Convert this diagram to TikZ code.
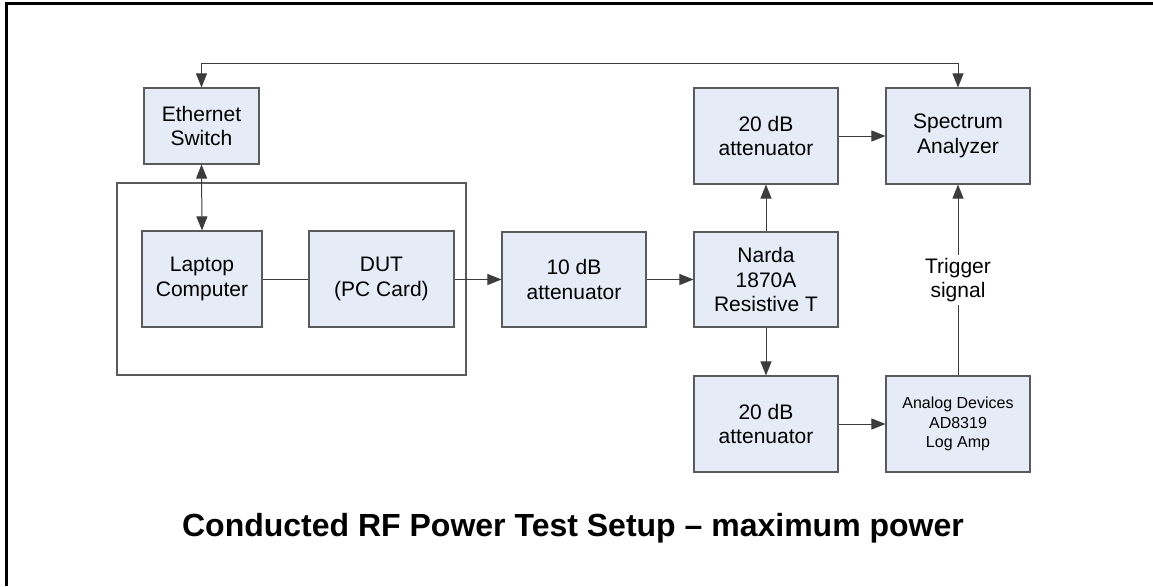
\documentclass[tikz,border=0pt]{standalone}
\usepackage{fontspec}
\setmainfont{Liberation Sans}
\usetikzlibrary{arrows.meta}
\definecolor{boxfill}{RGB}{230,236,247}
\definecolor{boxdraw}{RGB}{90,90,90}
\definecolor{linecol}{RGB}{60,60,60}
\tikzset{
  blk/.style={draw=boxdraw, fill=boxfill, line width=1.1pt, inner sep=0pt, align=center,
    font=\fontsize{21}{24.5}\selectfont, minimum width=144pt, minimum height=96pt},
  conn/.style={draw=linecol, line width=1pt, >={Triangle[length=14pt,width=11pt]}},
}
\begin{document}
\begin{tikzpicture}[x=1pt,y=-1pt]
\useasboundingbox (0,0) rectangle (1153,586);
% border (top and left visible)
\coordinate (bl) at (6.5,586);
\coordinate (tl) at (6.5,3.7);
\coordinate (tr) at (1153,3.7);
\draw[line width=2.5pt, black] (bl) -- (tl) -- (tr);
% container
\node[draw=boxdraw, line width=1.1pt, minimum width=349pt, minimum height=192pt, inner sep=0pt] (cont) at (291.5,279) {};
% blocks
\node[blk, minimum width=115pt, minimum height=76pt] (eth) at (201.5,126) {Ethernet\\Switch};
\node[blk, minimum width=120pt] (lap) at (202,279) {Laptop\\Computer};
\node[blk, minimum width=145pt] (dut) at (381.5,279) {DUT\\(PC Card)};
\node[blk, minimum height=95pt] (att10) at (574,279.5) {10 dB\\attenuator};
\node[blk, minimum height=95pt] (narda) at (766,279.5) {Narda\\1870A\\Resistive T};
\node[blk] (attu) at (766,136) {20 dB\\attenuator};
\node[blk] (sa) at (958,136) {Spectrum\\Analyzer};
\node[blk] (attl) at (766,424) {20 dB\\attenuator};
\node[blk, font=\fontsize{16}{19.5}\selectfont] (log) at (958,424) {Analog Devices\\AD8319\\Log Amp};
% connectors
\draw[conn, <->] (eth.north) -- ++(0,-24) -| (sa.north);
\draw[conn, <->] (eth.south) -- (lap.north);
\draw[conn] (lap.east |- dut.west) -- (dut.west);
\draw[conn, ->] (dut.east |- att10.west) -- (att10.west);
\draw[conn, ->] (att10.east) -- (narda.west);
\draw[conn, ->] (narda.north) -- (attu.south);
\draw[conn, ->] (narda.south) -- (attl.north);
\draw[conn, ->] (attu.east) -- (sa.west);
\draw[conn, ->] (attl.east) -- (log.west);
\draw[conn, ->] (log.north) -- node[fill=white, inner sep=3pt, align=center, font=\fontsize{21}{24.5}\selectfont] (trig) {Trigger\\signal} (sa.south);
% title
\node[font=\bfseries\fontsize{32}{37}\selectfont, anchor=base] (title) at (573,536) {Conducted RF Power Test Setup – maximum power};
\end{tikzpicture}
\end{document}
